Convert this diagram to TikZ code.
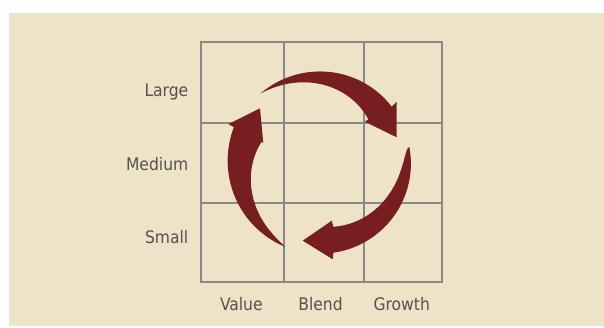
\documentclass[tikz,border=0pt]{standalone}
\usepackage{fontspec}
\setmainfont{DejaVu Sans Condensed}
\definecolor{bgc}{HTML}{EEE3C7}
\definecolor{arrc}{HTML}{761E22}
\definecolor{gridc}{HTML}{898989}
\definecolor{txtc}{HTML}{525252}
\begin{document}
\begin{tikzpicture}[x=1pt,y=1pt,
  lbl/.style={text=txtc, font=\fontsize{17.3}{20}\selectfont, inner sep=0pt},
  gridline/.style={draw=gridc, line width=1.9pt},
  arr/.style={fill=arrc}]
\useasboundingbox (0,0) rectangle (604,327);
\fill[bgc] (9,1) rectangle (604,314);
% grid
\draw[gridline] (201,44.7) rectangle (442.3,284.7);
\draw[gridline] (283.7,44.7) -- (283.7,284.7);
\draw[gridline] (363.7,44.7) -- (363.7,284.7);
\draw[gridline] (201,204.3) -- (442.3,204.3);
\draw[gridline] (201,124.3) -- (442.3,124.3);
\coordinate (C) at (321.5,164.5);
% top arrow
\fill[arr, shift={(C)}] plot[domain=0:1,samples=40] ({131.3-92.8*\x}:{92.1-2.4*\x})
  -- (39:96.7) -- (18.5:79.3) -- (43.2:59.6) -- (42.7:63.7)
  -- plot[domain=1:0.01,samples=40] ({131.3-88.6*\x}:{92.1-2.4*\x-26*\x^0.93}) -- cycle;
% right arrow
\fill[arr, shift={(C)}] plot[domain=0:1,samples=40] ({10.2-92.7*\x}:{89.2+1.8*\x})
  -- (-83.4:97.4) -- (-103.5:80.4) -- (-80:59.1) -- (-79.6:65.3)
  -- plot[domain=1:0.01,samples=40] ({10.2-89.8*\x}:{89.2+1.8*\x-25.7*\x^0.56}) -- cycle;
% left arrow
\fill[arr, shift={(C)}] plot[domain=0:1,samples=40] ({246.6-88.6*\x}:{91.8+2.7*\x})
  -- (157.6:100.8) -- (138.6:82) -- (161.7:61.3) -- (160.8:63.3)
  -- plot[domain=1:0.01,samples=40] ({246.6-85.8*\x}:{91.8+2.7*\x-31.2*\x^0.85}) -- cycle;
% labels
\node[lbl, anchor=base east] (large) at (188.5,230.3) {Large};
\node[lbl, anchor=base east] (medium) at (188.5,157) {Medium};
\node[lbl, anchor=base east] (small) at (188.5,83.7) {Small};
\node[lbl, anchor=base] (value) at (241.3,17) {Value};
\node[lbl, anchor=base] (blend) at (320.5,17) {Blend};
\node[lbl, anchor=base] (growth) at (401.7,17) {Growth};
\end{tikzpicture}
\end{document}
